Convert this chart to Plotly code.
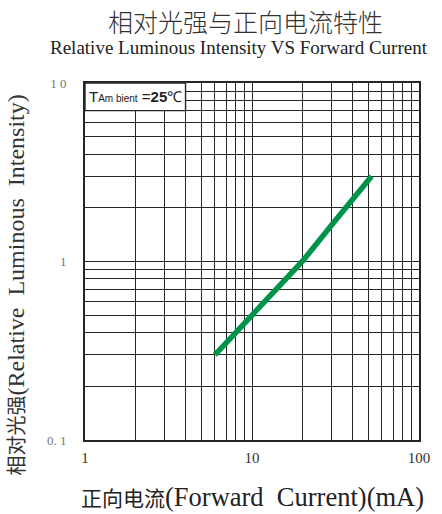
import math
import plotly.graph_objects as go

# Data
current_ma = [6, 10, 20, 30, 40, 52]
rel_intensity = [0.3, 0.5, 1.0, 1.6, 2.2, 3.0]

x_grid_vals = [1, 2, 3, 4, 5, 6, 7, 8, 9, 10, 20, 30, 40, 50, 60, 70, 80, 90, 100]
x_grid_text = ["1", "", "", "", "", "", "", "", "", "10", "", "", "", "", "", "", "", "", "100"]
y_grid_vals = [0.1, 0.2, 0.3, 0.4, 0.5, 0.6, 0.7, 0.8, 0.9, 1, 2, 3, 4, 5, 6, 7, 8, 9, 10]
y_grid_text = ["0. 1", "", "", "", "", "", "", "", "", "1", "", "", "", "", "", "", "", "", "1 0"]

title_cn = "相对光强与正向电流特性"
title_en = "Relative Luminous Intensity VS Forward Current"
x_title = "<span style='font-size:21px'>正向电流</span>(Forward  Current)(mA)"
y_title = "<span style='font-size:20px'>相对光强</span>(Relative  Luminous  Intensity)"

SERIF = "Liberation Serif, Noto Sans CJK SC, serif"
CJK = "Noto Sans CJK SC, sans-serif"
GRID = "#262626"

fig = go.Figure()
fig.add_trace(go.Scatter(
    x=current_ma, y=rel_intensity, mode="lines",
    line=dict(color="#00934a", width=5.5),
    showlegend=False, hoverinfo="skip",
))

fig.update_layout(
    width=442, height=514,
    margin=dict(l=85, r=23, t=83, b=74, autoexpand=False),
    paper_bgcolor="white", plot_bgcolor="white",
    showlegend=False,
    xaxis=dict(
        type="log", range=[0, 2], automargin=False,
        tickmode="array", tickvals=x_grid_vals, ticktext=x_grid_text,
        showgrid=True, gridcolor=GRID, gridwidth=1.4,
        showline=True, linecolor=GRID, linewidth=1.7, mirror=True,
        ticks="", zeroline=False,
        tickfont=dict(family=SERIF, size=15, color="#333"),
        ticklabelstandoff=3,
    ),
    yaxis=dict(
        type="log", range=[-1, 1], automargin=False,
        tickmode="array", tickvals=y_grid_vals, ticktext=y_grid_text,
        showgrid=True, gridcolor=GRID, gridwidth=1.4,
        showline=True, linecolor=GRID, linewidth=1.7, mirror=True,
        ticks="", zeroline=False,
        tickfont=dict(family=SERIF, size=13, color="#777"),
        ticklabelstandoff=14,
    ),
)

# Ambient temperature box (covers grid), shape in data coords
fig.add_shape(type="rect", xref="x", yref="y", x0=1, x1=4, y0=7, y1=10,
              fillcolor="white", line=dict(color=GRID, width=1.4), layer="above")
# annotation positions on log axes are given in log10 units
fig.add_annotation(
    xref="x", yref="y", x=math.log10(2), y=math.log10(8.4), showarrow=False,
    text="T<span style='font-size:10px'>Am bient</span> =<b>25</b>℃",
    font=dict(family="Liberation Sans, Arial, sans-serif", size=15, color="#222"),
)

# Titles
fig.add_annotation(xref="paper", yref="paper", x=0.5, y=1, xanchor="center", yanchor="middle",
                   yshift=62, xshift=-7, showarrow=False, text=title_cn,
                   font=dict(family=CJK, size=25, color="#333", weight=300))
fig.add_annotation(xref="paper", yref="paper", x=0.5, y=1, xanchor="center", yanchor="middle",
                   yshift=36, xshift=-13, showarrow=False, text=title_en,
                   font=dict(family=SERIF, size=19, color="#222"))
fig.add_annotation(xref="paper", yref="paper", x=0.5, y=0, xanchor="center", yanchor="middle",
                   yshift=-57, xshift=0, showarrow=False, text=x_title,
                   font=dict(family=SERIF, size=26.5, color="#222"))
fig.add_annotation(xref="paper", yref="paper", x=0, y=0.5, xanchor="center", yanchor="middle",
                   xshift=-70, yshift=-24, showarrow=False, text=y_title, textangle=-90,
                   font=dict(family=SERIF, size=24, color="#333"))

fig.write_html("out.html", post_script="document.body.style.margin='0';",
               config={"displayModeBar": False})
